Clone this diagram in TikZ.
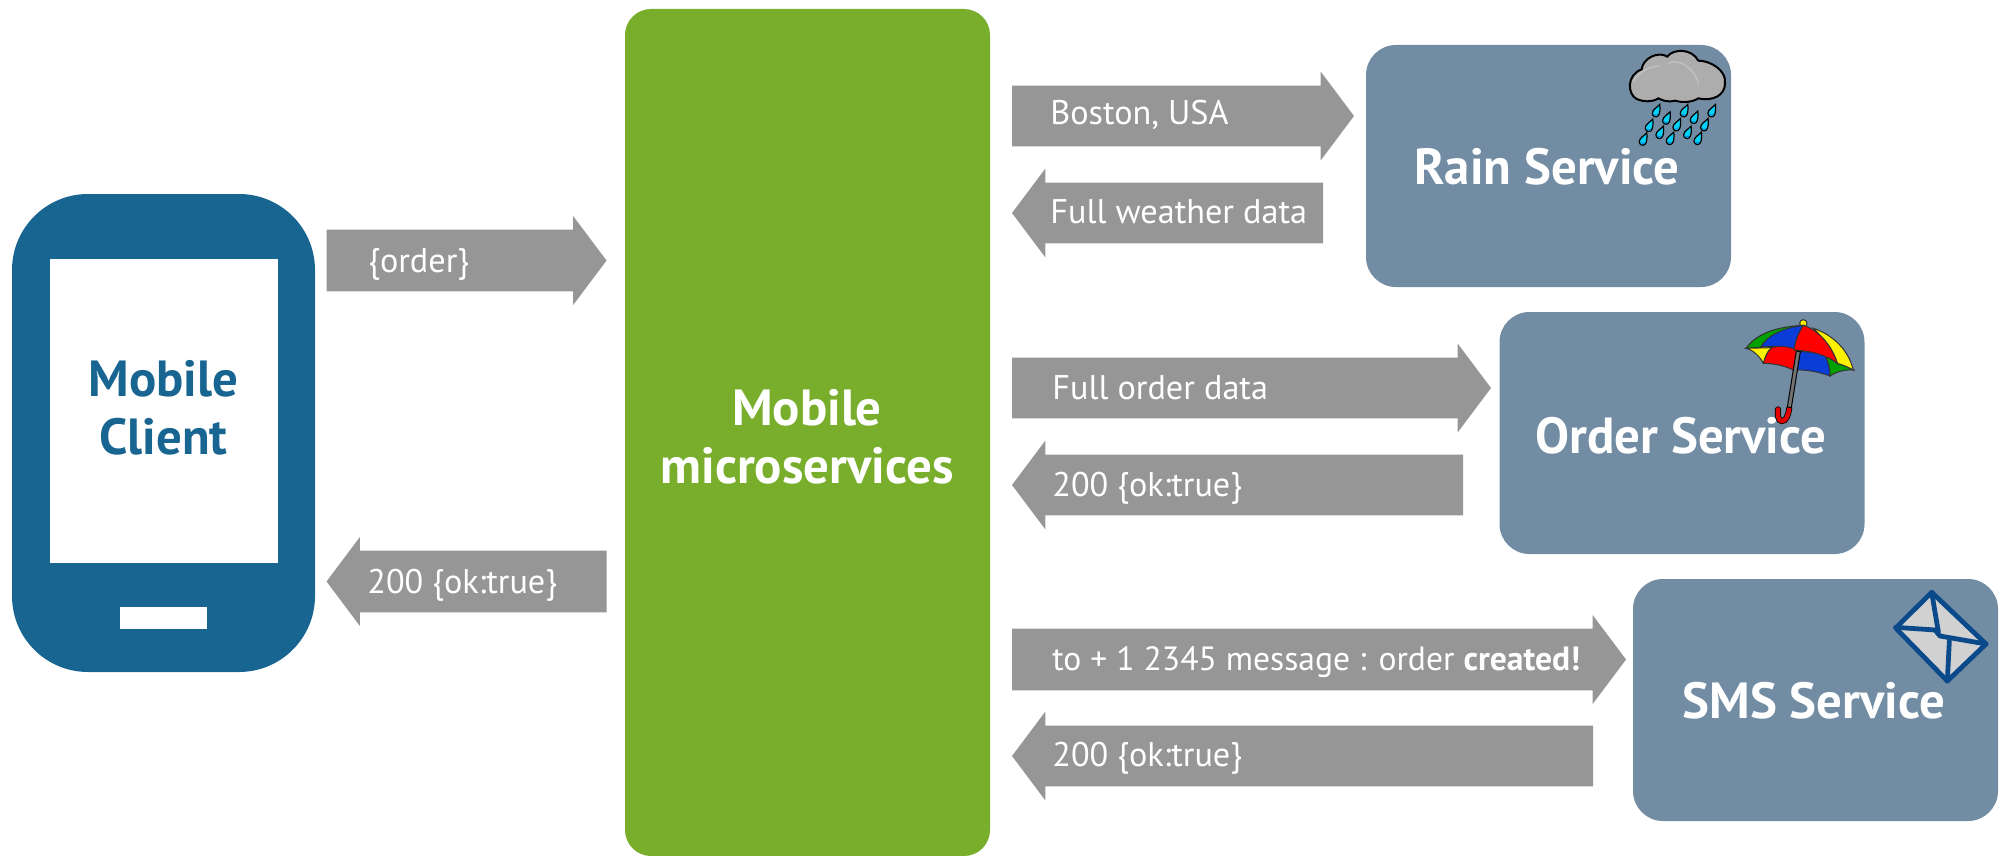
\documentclass[tikz,border=0pt]{standalone}
\usepackage{fontspec}
\setmainfont{PT Sans}
\usetikzlibrary{shapes.arrows}
\definecolor{phoneblue}{HTML}{196592}
\definecolor{msgreen}{HTML}{78AE2B}
\definecolor{svcblue}{HTML}{718CA3}
\definecolor{arrowgrey}{HTML}{969696}
\definecolor{envblue}{HTML}{0B4A8A}
\definecolor{dropcyan}{HTML}{00D0F5}
\definecolor{dropblue}{HTML}{0070E0}
\definecolor{umbblue}{HTML}{0A3CD8}
\definecolor{umbgreen}{HTML}{00A000}
\newcommand{\blockarrow}[7]{% name, left, right, yc, rot, shaft half, head half
  \pgfmathsetmacro{\alen}{#3-#2}
  \pgfmathsetmacro{\tailx}{#5==0 ? #2 : #3}
  \pgfmathsetmacro{\shaftsep}{#6*0.5}\pgfmathsetmacro{\hext}{(#7-#6)*0.5}
  \pgfmathsetmacro{\lenpt}{\alen*0.5}
  \pgfmathsetmacro{\tipa}{2*atan(#7/33)}
  \node[blockarr, anchor=tail, shape border rotate=#5, minimum height=\lenpt pt, inner ysep=\shaftsep pt,
        single arrow head extend=\hext pt, single arrow tip angle=\tipa] (#1) at (\tailx,#4) {};
}
\tikzset{
  x=0.5pt,y=-0.5pt,
  blockarr/.style={single arrow, fill=arrowgrey, draw=none, inner xsep=0pt, outer sep=0pt, single arrow head indent=0pt},
  svcbox/.style={rectangle, rounded corners=15pt, fill=svcblue, minimum width=182.5pt, minimum height=121pt, inner sep=0pt},
  boxtitle/.style={font=\fontsize{25.4}{30}\selectfont\bfseries, text=white, align=center, inner sep=0pt},
  msglabel/.style={font=\fontsize{17.1}{20}\selectfont, text=white, anchor=base west, inner sep=0pt},
  dropshape/.pic={
    \fill[dropcyan,draw=black,line width=0.6pt] (8,-14) .. controls (3,-8) and (-8,-3) .. (-8,5) .. controls (-8,11) and (-1,15) .. (4,11) .. controls (9,7) and (9,-6) .. (8,-14) -- cycle;
    \fill[dropblue] (-6,6) .. controls (-4,10) and (2,12) .. (5,7) .. controls (1,9) and (-3,8) .. (-6,6) -- cycle;
  }
}
\begin{document}
\begin{tikzpicture}
\useasboundingbox (0,0) rectangle (2003,856);
% phone
\node[rectangle, rounded corners=38pt, fill=phoneblue, minimum width=151.5pt, minimum height=239pt, inner sep=0pt] (phone) at (163.5,433) {};
\node[rectangle, fill=white, minimum width=114pt, minimum height=152pt, inner sep=0pt] (screen) at (163.5,411) {};
\node[rectangle, fill=white, minimum width=43.5pt, minimum height=11pt, inner sep=0pt] (homebtn) at (163.5,618) {};
\node[boxtitle, text=phoneblue] (clientlabel) at (163.5,408) {Mobile\\[-1pt]Client};
% middle
\node[rectangle, rounded corners=13pt, fill=msgreen, minimum width=182.5pt, minimum height=423.5pt, inner sep=0pt] (hub) at (807.5,432.5) {};
\node[boxtitle] (hublabel) at (807,437) {Mobile\\[-1pt]microservices};
% services
\node[svcbox] (rain) at (1548.5,166) {};
\node[svcbox] (order) at (1682,433) {};
\node[svcbox] (sms) at (1815.5,700) {};
% arrows
\blockarrow{a1}{326.5}{606.5}{260.5}{0}{30.5}{44}
\blockarrow{a2}{326.5}{606.5}{581.5}{180}{30.5}{44}
\blockarrow{b1}{1012}{1354}{116}{0}{30}{44}
\blockarrow{b2}{1012}{1323}{213}{180}{30}{44}
\blockarrow{c1}{1012}{1491}{388}{0}{30}{44}
\blockarrow{c2}{1012}{1463}{485}{180}{30}{44}
\blockarrow{d1}{1012}{1626}{659.5}{0}{30.5}{44}
\blockarrow{d2}{1012}{1593}{756}{180}{30}{44}
% labels
\node[msglabel] (t1) at (368,272) {\{order\}};
\node[msglabel] (t2) at (367,593) {200 \{ok:true\}};
\node[msglabel] (t3) at (1050,125) {Boston, USA};
\node[msglabel] (t4) at (1050,223) {Full weather data};
\node[msglabel] (t5) at (1052,399) {Full order data};
\node[msglabel] (t6) at (1052,496) {200 \{ok:true\}};
\node[msglabel, font=\fontsize{16.8}{20}\selectfont] (t7) at (1052,670) {to + 1 2345 message : order \textbf{created!}};
\node[msglabel] (t8) at (1052,766) {200 \{ok:true\}};
% service names
\node[boxtitle] (rainlabel) at (1547,167) {Rain Service};
\node[boxtitle] (orderlabel) at (1681,436) {Order Service};
\node[boxtitle] (smslabel) at (1814,701) {SMS Service};
% cloud
\begin{scope}[shift={(1550,30)},scale=1/3]
\path[fill=black!32,draw=black,line width=1pt]
 (262,208) .. controls (232,195) and (228,135) .. (275,118)
 .. controls (278,85) and (325,62) .. (352,80)
 .. controls (370,55) and (425,55) .. (445,92)
 .. controls (480,92) and (530,120) .. (525,160)
 .. controls (525,195) and (490,215) .. (445,205)
 .. controls (425,218) and (395,218) .. (375,212)
 .. controls (350,218) and (335,210) .. (325,205)
 .. controls (305,218) and (280,215) .. (262,208) -- cycle;
\draw[white!75!black,line width=0.8pt] (250,155) .. controls (265,130) and (290,110) .. (330,108);
\draw[white!75!black,line width=0.8pt] (355,100) .. controls (385,85) and (430,110) .. (445,160);
\foreach \dx/\dy in {318/243,349/265,402/243,432/263,485/243,297/287,380/285,463/285,329/308,412/308,279/328,360/326,443/326}
  \pic[transform shape,scale=1.4] at (\dx,\dy) {dropshape};
\end{scope}
% umbrella
\begin{scope}[shift={(1720,300)},scale=1/3,line width=0.5pt,draw=black!80]
\filldraw[fill=yellow] (250,70) circle (11);
\filldraw[fill=umbgreen] (78,145) .. controls (110,100) and (170,80) .. (250,76) .. controls (180,90) and (140,110) .. (122,142) -- cycle;
\filldraw[fill=yellow] (78,145) -- (155,143) .. controls (140,155) and (135,175) .. (130,190) .. controls (120,170) and (100,150) .. (78,145) -- cycle;
\filldraw[fill=umbblue] (122,142) .. controls (140,110) and (180,85) .. (250,76) .. controls (235,100) and (225,125) .. (222,150) .. controls (190,140) and (150,135) .. (122,142) -- cycle;
\filldraw[fill=red] (155,143) .. controls (180,135) and (210,140) .. (235,152) .. controls (228,170) and (222,190) .. (220,210) .. controls (190,195) and (155,190) .. (130,190) .. controls (135,175) and (140,155) .. (155,143) -- cycle;
\filldraw[fill=umbblue] (240,155) .. controls (270,155) and (300,160) .. (315,165) .. controls (325,185) and (330,205) .. (330,228) .. controls (295,215) and (255,208) .. (220,210) .. controls (232,190) and (238,170) .. (240,155) -- cycle;
\filldraw[fill=umbgreen] (315,165) .. controls (330,172) and (345,182) .. (352,190) .. controls (370,195) and (385,202) .. (400,210) .. controls (375,208) and (350,215) .. (330,228) .. controls (330,205) and (325,185) .. (315,165) -- cycle;
\filldraw[fill=yellow] (280,85) .. controls (340,105) and (385,150) .. (400,210) .. controls (385,202) and (370,195) .. (352,190) .. controls (340,150) and (310,115) .. (280,85) -- cycle;
\filldraw[fill=red] (250,76) .. controls (295,90) and (335,135) .. (352,190) .. controls (320,165) and (270,152) .. (222,150) .. controls (225,125) and (235,100) .. (250,76) -- cycle;
\draw[black,line width=3pt,line cap=round] (208,324) .. controls (205,345) and (198,365) .. (185,363) .. controls (175,362) and (172,345) .. (174,328);
\draw[red!90!black,line width=2.2pt,line cap=round] (208,324) .. controls (205,345) and (198,365) .. (185,363) .. controls (175,362) and (172,345) .. (174,328);
\filldraw[fill=black!55,draw=black] (229,153) -- (241,155) -- (214,323) -- (202,321) -- cycle;
\end{scope}
% envelope
\begin{scope}[shift={(1860,570)},scale=1/3,line width=2.4pt,draw=envblue,line join=round]
\filldraw[fill=black!18,draw=envblue] (215,67) -- (378,222) -- (262,333) -- (107,174) -- cycle;
\draw[line cap=round] (107,172) -- (225,180) -- (240,198) -- (378,222);
\draw[line cap=round] (215,67) -- (235,185);
\draw[line cap=round] (262,333) -- (268,213);
\end{scope}
\end{tikzpicture}
\end{document}
